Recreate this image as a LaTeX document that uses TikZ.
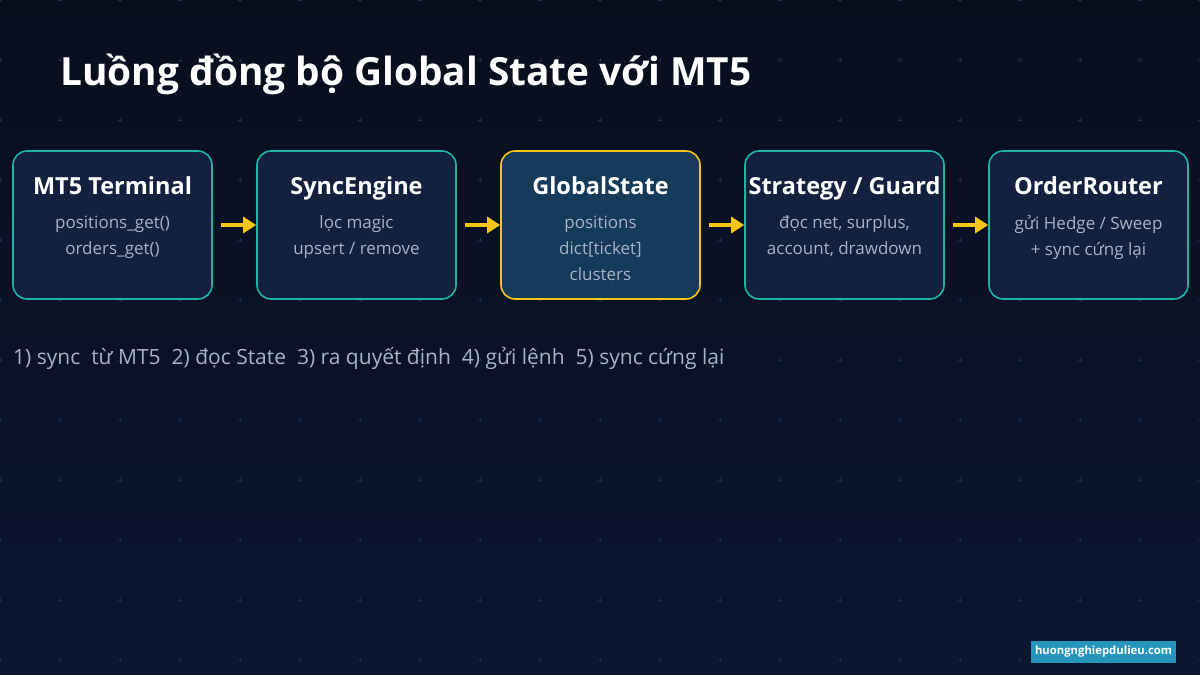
\documentclass[tikz,border=0pt]{standalone}
\usepackage{fontspec}
\setmainfont{Open Sans}
\usetikzlibrary{arrows.meta}
\definecolor{bgtop}{HTML}{090E1D}
\definecolor{bgbot}{HTML}{0B1630}
\definecolor{boxfill}{HTML}{13213F}
\definecolor{hlfill}{HTML}{153A5A}
\definecolor{teal}{HTML}{1CB5A3}
\definecolor{gold}{HTML}{F5C518}
\definecolor{subtxt}{HTML}{A7B2C4}
\definecolor{gridc}{HTML}{1C2A4E}
\definecolor{wm}{HTML}{2595BE}
\tikzset{
  stagebox/.style={draw=teal, line width=1.6pt, fill=boxfill, rounded corners=14pt,
    minimum width=199pt, minimum height=148pt, inner sep=0pt},
  hlbox/.style={stagebox, draw=gold, fill=hlfill},
  boxtitle/.style={font=\fontsize{23.5}{27}\selectfont\bfseries, text=white, anchor=base},
  boxsub/.style={font=\fontsize{17}{26}\selectfont, text=subtxt, align=center, anchor=north},
  flow/.style={draw=gold, line width=3.5pt, -{Triangle[length=13pt,width=16pt]}, shorten >=0pt},
}
\begin{document}
\begin{tikzpicture}[x=1pt,y=-1pt]
\useasboundingbox (0,0) rectangle (1200,675);
\shade[top color=bgtop, bottom color=bgbot] (0,0) rectangle (1200,675);
% grid marks
\foreach \gx in {0,60,...,1200}{
  \foreach \gy in {0,60,...,660}{
    \draw[gridc, line width=0.9pt] (\gx-2,\gy) -- (\gx+2,\gy) (\gx,\gy-2) -- (\gx,\gy+2);
  }
}
% title
\node[anchor=base west, text=white, font=\fontsize{38.8}{44}\selectfont\bfseries, inner sep=0pt] (title) at (60,85) {Luồng đồng bộ Global State với MT5};
% boxes
\node[stagebox] (b1) at (112.5,225) {};
\node[stagebox] (b2) at (356.5,225) {};
\node[hlbox]    (b3) at (600.5,225) {};
\node[stagebox] (b4) at (844.5,225) {};
\node[stagebox] (b5) at (1088.5,225) {};
% titles
\node[boxtitle] (t1) at (112.5,194) {MT5 Terminal};
\node[boxtitle] (t2) at (356.5,194) {SyncEngine};
\node[boxtitle] (t3) at (600.5,194) {GlobalState};
\node[boxtitle] (t4) at (844.5,194) {Strategy / Guard};
\node[boxtitle] (t5) at (1088.5,194) {OrderRouter};
% subtexts
\node[boxsub] (s1) at (112.5,212) {positions\_get()\\orders\_get()};
\node[boxsub] (s2) at (356.5,212) {lọc magic\\upsert / remove};
\node[boxsub] (s3) at (600.5,212) {positions\\dict[ticket]\\clusters};
\node[boxsub] (s4) at (844.5,212) {đọc net, surplus,\\account, drawdown};
\node[boxsub] (s5) at (1088.5,212) {gửi Hedge / Sweep\\+ sync cứng lại};
% arrows
\draw[flow] ([xshift=8pt]b1.east) -- (b2.west);
\draw[flow] ([xshift=8pt]b2.east) -- (b3.west);
\draw[flow] ([xshift=8pt]b3.east) -- (b4.west);
\draw[flow] ([xshift=8pt]b4.east) -- (b5.west);
% steps
\node[anchor=base west, inner sep=0pt, text=subtxt, font=\fontsize{21}{25}\selectfont] (steps) at (13,364) {1) sync\ \ từ MT5\ \ 2) đọc State\ \ 3) ra quyết định\ \ 4) gửi lệnh\ \ 5) sync cứng lại};
% watermark
\node[fill=wm, text=white, font=\fontsize{11.3}{13}\selectfont\bfseries, minimum width=145pt, minimum height=22pt, inner sep=0pt] (wmk) at (1103.5,652) {huongnghiepdulieu.com};
\end{tikzpicture}
\end{document}
